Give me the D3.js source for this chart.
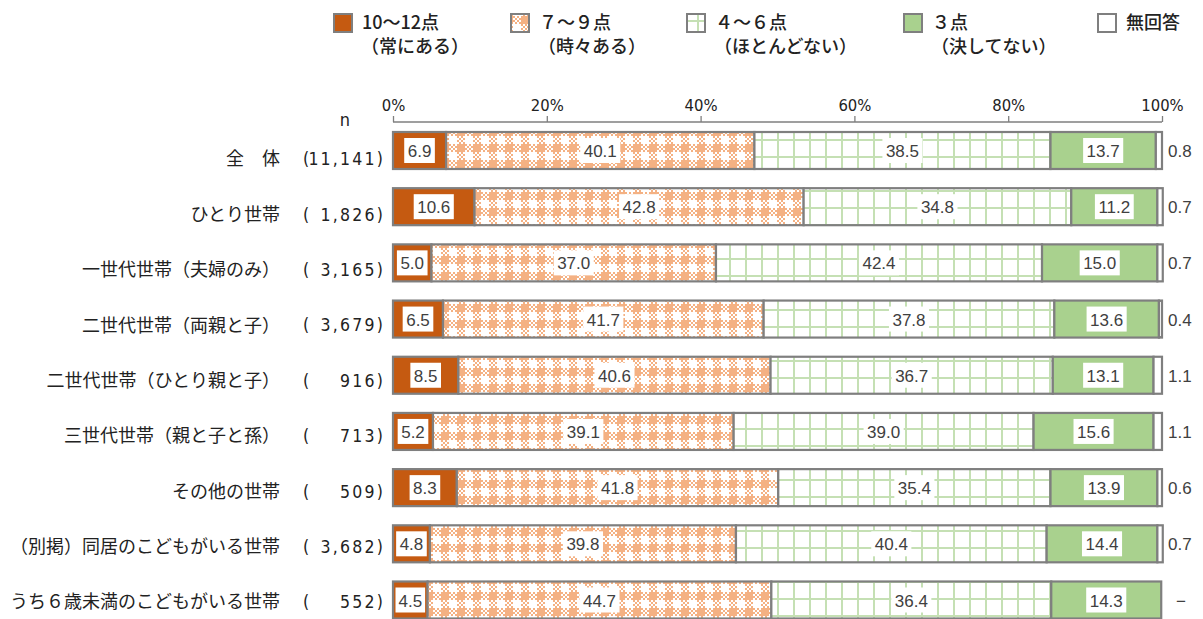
<!DOCTYPE html>
<html><head><meta charset="utf-8">
<script src="https://cdn.jsdelivr.net/npm/d3@7"></script>
<style>
html,body{margin:0;padding:0;background:#fff;}
svg{display:block;}
.jp{font-family:"Noto Sans CJK JP","Noto Sans",sans-serif;}
.cond{font-family:"DejaVu Sans Condensed","Liberation Sans Narrow","DejaVu Sans",sans-serif;font-stretch:condensed;}
.num{font-family:"Liberation Sans",Arial,sans-serif;}
</style>
</head><body>
<svg id="chart" width="1203" height="619"></svg>
<script>
const categories = ["全　体","ひとり世帯","一世代世帯（夫婦のみ）","二世代世帯（両親と子）","二世代世帯（ひとり親と子）","三世代世帯（親と子と孫）","その他の世帯","（別掲）同居のこどもがいる世帯","うち６歳未満のこどもがいる世帯"];
const nValues = ["11,141","1,826","3,165","3,679","916","713","509","3,682","552"];
const seriesNames = ["10～12点","７～９点","４～６点","３点","無回答"];
const seriesSub = ["（常にある）","（時々ある）","（ほとんどない）","（決してない）",""];
const s1012 = [6.9,10.6,5.0,6.5,8.5,5.2,8.3,4.8,4.5];
const s79   = [40.1,42.8,37.0,41.7,40.6,39.1,41.8,39.8,44.7];
const s46   = [38.5,34.8,42.4,37.8,36.7,39.0,35.4,40.4,36.4];
const s3    = [13.7,11.2,15.0,13.6,13.1,15.6,13.9,14.4,14.3];
const sNA   = [0.8,0.7,0.7,0.4,1.1,1.1,0.6,0.7,0];
const tickValues = [0,20,40,60,80,100];

const series = [s1012,s79,s46,s3,sNA];
const svg = d3.select("#chart");
const defs = svg.append("defs");
const ORANGE_D = "#c55a11", ORANGE_L = "#f4b183", GREEN = "#a9d18e", GREEN_L = "#c5e0b4", GRAY = "#7f7f7f", TXT = "#404040";

// gingham pattern
const pg = defs.append("pattern").attr("id","ging").attr("patternUnits","userSpaceOnUse")
  .attr("width",16).attr("height",16).attr("x",393).attr("y",0);
pg.append("rect").attr("width",16).attr("height",16).attr("fill","#fff");
pg.append("rect").attr("x",0).attr("y",0).attr("width",8).attr("height",8).attr("fill",ORANGE_L);
for(let i=0;i<4;i++)for(let j=0;j<4;j++){
  if((i+j)%2===0){
    pg.append("rect").attr("x",8+i*2).attr("y",j*2).attr("width",2).attr("height",2).attr("fill",ORANGE_L);
    pg.append("rect").attr("x",i*2).attr("y",8+j*2).attr("width",2).attr("height",2).attr("fill",ORANGE_L);
  }
}
// grid pattern
const gg = defs.append("pattern").attr("id","grid").attr("patternUnits","userSpaceOnUse")
  .attr("width",16).attr("height",17).attr("x",393).attr("y",3);
gg.append("rect").attr("width",16).attr("height",17).attr("fill","#fff");
gg.append("rect").attr("x",0).attr("y",0).attr("width",2).attr("height",17).attr("fill",GREEN_L);
gg.append("rect").attr("x",0).attr("y",0).attr("width",16).attr("height",2).attr("fill",GREEN_L);

const fills = [ORANGE_D,"url(#ging)","url(#grid)",GREEN,"#fff"];

const x = d3.scaleLinear().domain([0,100]).range([393,1162]);
const yBar = d3.scalePoint().domain(categories).range([150.5,600]);
const yLab = d3.scalePoint().domain(categories).range([159,602]);
const barH = 37;

// axis
const axisG = svg.append("g").attr("transform","translate(0,122)")
  .call(d3.axisTop(x).tickValues(tickValues).tickFormat(d=>d+"%").tickSize(6).tickPadding(5));
axisG.select(".domain").attr("stroke",GRAY).attr("stroke-width",1.3).attr("d","M393,0H1162");
axisG.selectAll(".tick line").attr("stroke",GRAY).attr("stroke-width",1.3);
axisG.selectAll(".tick text").attr("class","cond").attr("font-size",16.5).attr("fill","#222");

// n header
svg.append("text").attr("class","cond").attr("x",345).attr("y",126).attr("text-anchor","middle")
  .attr("font-size",18).attr("fill","#222").text("n");

// bars
categories.forEach((c,i)=>{
  let cum = 0;
  const yc = yBar(c);
  const g = svg.append("g");
  series.forEach((s,k)=>{
    const v = s[i];
    if(v<=0) return;
    const x0 = x(cum), x1 = x(cum+v);
    g.append("rect").attr("x",x0).attr("y",yc-barH/2).attr("width",x1-x0).attr("height",barH)
      .attr("fill",fills[k]).attr("stroke",GRAY).attr("stroke-width",2.2);
    cum += v;
  });
  // segment labels
  cum = 0;
  series.forEach((s,k)=>{
    const v = s[i];
    if(k<4){
      const cx = x(cum + v/2);
      const t = g.append("text").attr("class","num").attr("x",cx).attr("y",yc+0.5).attr("dy","0.36em")
        .attr("text-anchor","middle").attr("font-size",17).attr("fill",TXT).text(v.toFixed(1));
      const w = t.node().getComputedTextLength();
      const segW = x(cum+v)-x(cum);
      const bw = Math.min(w+7, segW-5);
      g.insert("rect","text:last-of-type").attr("x",cx-bw/2).attr("y",yc-12.5).attr("width",bw).attr("height",25).attr("fill","#fff");
    }
    cum += v;
  });
  // right value
  svg.append("text").attr("class","num").attr("x",sNA[i]>0?1168:1176).attr("y",yc+0.5).attr("dy","0.36em")
    .attr("font-size",17).attr("fill",TXT).text(sNA[i]>0?sNA[i].toFixed(1):"−");
  // category label
  svg.append("text").attr("class","jp").attr("x",280).attr("y",yLab(c)).attr("dy","0.36em")
    .attr("text-anchor","end").attr("font-size",18).attr("fill","#222").text(c);
  // n
  svg.append("text").attr("class","cond").attr("x",303).attr("y",yLab(c)).attr("dy","0.36em")
    .attr("font-size",17.5).attr("fill","#222").text("(");
  svg.append("text").attr("class","cond").attr("x",385).attr("y",yLab(c)).attr("dy","0.36em")
    .attr("text-anchor","end").attr("font-size",17.5).attr("letter-spacing",2.2).attr("fill","#222").text(nValues[i]+")");
});

// legend
const legX = [333,510,686,903,1097];
seriesNames.forEach((name,k)=>{
  const lx = legX[k];
  svg.append("rect").attr("x",lx+1).attr("y",14).attr("width",18).attr("height",18)
    .attr("fill",fills[k]).attr("stroke",GRAY).attr("stroke-width",2);
  svg.append("text").attr("class","jp").attr("x",lx+29).attr("y",23).attr("dy","0.36em")
    .attr("font-size",18).attr("font-weight",500).attr("fill","#222").text(name);
  if(seriesSub[k]) svg.append("text").attr("class","jp").attr("x",lx+28).attr("y",47).attr("dy","0.36em")
    .attr("font-size",18).attr("font-weight",500).attr("fill","#222").text(seriesSub[k]);
});
</script>
</body></html>
